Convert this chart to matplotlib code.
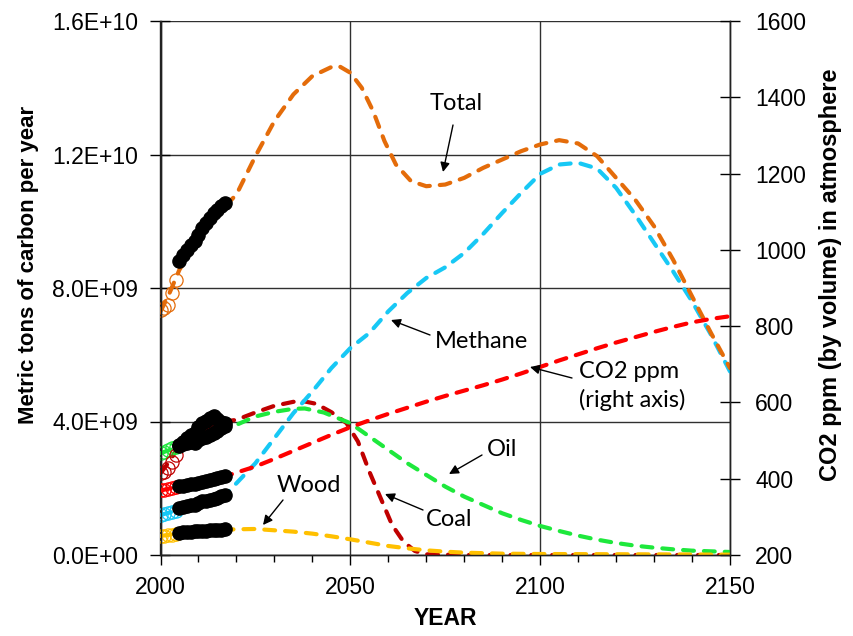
import matplotlib
matplotlib.use("Agg")
import matplotlib.pyplot as plt
from matplotlib.ticker import FixedLocator, MultipleLocator
from matplotlib.patches import FancyArrowPatch

# ---------------- data ----------------
# model curves (billions of metric tons of carbon per year)
total_years = [2000, 2002, 2005, 2008, 2011, 2014, 2017, 2020, 2025, 2030, 2035, 2040, 2045, 2047, 2050,
               2053, 2056, 2059, 2062, 2066, 2070, 2075, 2080, 2085, 2090, 2095, 2100, 2105, 2110,
               2115, 2120, 2125, 2130, 2135, 2140, 2145, 2150]
total_vals = [7.3, 7.75, 8.55, 9.1, 9.6, 10.05, 10.45, 10.8, 11.95, 13.0, 13.8, 14.35, 14.62, 14.65, 14.45,
              14.0, 13.3, 12.4, 11.7, 11.2, 11.05, 11.1, 11.3, 11.6, 11.85, 12.1, 12.3, 12.43, 12.33,
              11.95, 11.3, 10.65, 9.85, 8.85, 7.75, 6.65, 5.6]

gas_years = [2000, 2005, 2010, 2015, 2017, 2020, 2025, 2030, 2035, 2040, 2045, 2050, 2055, 2060, 2065,
             2070, 2075, 2080, 2085, 2090, 2095, 2100, 2105, 2110, 2115, 2120, 2125, 2130, 2135, 2140,
             2145, 2150]
gas_vals = [1.2, 1.35, 1.55, 1.7, 1.8, 2.15, 2.75, 3.5, 4.25, 4.9, 5.6, 6.2, 6.65, 7.3, 7.85,
            8.3, 8.62, 9.05, 9.62, 10.25, 10.85, 11.42, 11.7, 11.75, 11.58, 11.0, 10.2, 9.35, 8.5, 7.6,
            6.6, 5.5]

coal_years = [2000, 2002, 2004, 2008, 2012, 2017, 2020, 2025, 2030, 2035, 2038, 2041, 2045, 2049, 2052,
              2055, 2058, 2061, 2064, 2067, 2070, 2080, 2100, 2150]
coal_vals = [2.45, 2.75, 3.1, 3.5, 3.8, 4.0, 4.05, 4.27, 4.47, 4.59, 4.6, 4.53, 4.28, 3.95, 3.4,
             2.5, 1.7, 0.9, 0.4, 0.12, 0.02, 0.0, 0.0, 0.0]

oil_years = [2000, 2005, 2010, 2017, 2020, 2025, 2030, 2035, 2038, 2043, 2050, 2055, 2060, 2065, 2070,
             2075, 2080, 2085, 2090, 2095, 2100, 2105, 2110, 2115, 2120, 2125, 2130, 2135, 2140, 2145, 2150]
oil_vals = [3.05, 3.25, 3.45, 3.8, 3.9, 4.15, 4.29, 4.38, 4.39, 4.27, 3.95, 3.55, 3.15, 2.75, 2.4,
            2.05, 1.75, 1.5, 1.25, 1.05, 0.87, 0.72, 0.58, 0.46, 0.36, 0.28, 0.22, 0.17, 0.13, 0.11, 0.09]

wood_years = [2000, 2005, 2010, 2017, 2020, 2025, 2030, 2035, 2040, 2045, 2050, 2055, 2060, 2065, 2070,
              2075, 2080, 2090, 2100, 2125, 2150]
wood_vals = [0.57, 0.65, 0.7, 0.76, 0.77, 0.78, 0.74, 0.7, 0.64, 0.56, 0.47, 0.37, 0.27, 0.2, 0.14,
             0.1, 0.07, 0.04, 0.03, 0.02, 0.01]

co2_years = [2000, 2005, 2010, 2017, 2020, 2025, 2030, 2035, 2040, 2045, 2050, 2055, 2060, 2065, 2070,
             2075, 2080, 2085, 2090, 2095, 2100, 2105, 2110, 2115, 2120, 2125, 2130, 2135, 2140, 2145, 2150]
co2_vals = [369, 380, 390, 406, 416, 432, 452, 473, 494, 515, 535, 553, 570, 586, 602,
            617, 631, 645, 660, 676, 693, 710, 726, 742, 757, 771, 785, 798, 810, 819, 826]

# early observations (open circles)
early_years = [2000, 2001, 2002, 2003, 2004]
early_total = [7.35, 7.4, 7.5, 7.85, 8.25]
early_oil = [3.05, 3.1, 3.15, 3.2, 3.25]
early_coal = [2.45, 2.5, 2.6, 2.8, 3.0]
early_gas = [1.2, 1.23, 1.26, 1.3, 1.33]
early_wood = [0.57, 0.58, 0.59, 0.61, 0.63]
early_co2 = [369.5, 371, 373, 375.5, 377.5]

# recent observations (black dots)
obs_years = [2005, 2006, 2007, 2008, 2009, 2010, 2011, 2012, 2013, 2014, 2015, 2016, 2017]
obs_total = [8.8, 9.0, 9.15, 9.3, 9.4, 9.6, 9.8, 9.95, 10.1, 10.25, 10.35, 10.45, 10.55]
obs_coal = [3.30, 3.40, 3.50, 3.60, 3.65, 3.85, 3.95, 4.02, 4.10, 4.15, 4.08, 4.0, 3.95]
obs_oil = [3.28, 3.32, 3.36, 3.38, 3.36, 3.45, 3.5, 3.55, 3.6, 3.65, 3.72, 3.8, 3.88]
obs_gas = [1.40, 1.44, 1.46, 1.50, 1.50, 1.57, 1.61, 1.63, 1.66, 1.69, 1.72, 1.76, 1.80]
obs_wood = [0.67, 0.68, 0.69, 0.70, 0.71, 0.72, 0.73, 0.73, 0.74, 0.75, 0.75, 0.76, 0.77]
obs_co2 = [379.8, 381.9, 383.8, 385.6, 387.4, 389.9, 391.7, 393.9, 396.5, 398.6, 400.8, 404.2, 406.5]

left_ticks = [0, 4e9, 8e9, 1.2e10, 1.6e10]
left_tick_labels = ['0.0E+00', '4.0E+09', '8.0E+09', '1.2E+10', '1.6E+10']
right_ticks = [200, 400, 600, 800, 1000, 1200, 1400, 1600]
x_ticks = [2000, 2050, 2100, 2150]

# ---------------- style ----------------
C_TOTAL = '#E46C0A'
C_GAS = '#17C8F5'
C_COAL = '#C00000'
C_OIL = '#1EE83C'
C_WOOD = '#FFC000'
C_CO2 = '#FF0000'

plt.rcParams['font.family'] = ['Liberation Sans', 'DejaVu Sans']
ANN_FONT = ['Lato', 'DejaVu Sans']

W, H = 854, 636
fig = plt.figure(figsize=(W / 100, H / 100), dpi=100)
ax = fig.add_axes([160.5 / W, 1 - 555 / H, (730 - 160.5) / W, (555 - 21) / H])
ax2 = ax.twinx()

B = 1e9
dash_kw = dict(lw=3.0, dashes=(2.6, 2.4), dash_capstyle='round', solid_capstyle='round')

ax.plot(coal_years, [v * B for v in coal_vals], color=C_COAL, zorder=3, **dash_kw)
ax.plot(oil_years, [v * B for v in oil_vals], color=C_OIL, zorder=3, **dash_kw)
ax.plot(wood_years, [v * B for v in wood_vals], color=C_WOOD, zorder=3, **dash_kw)
ax.plot(gas_years, [v * B for v in gas_vals], color=C_GAS, zorder=3, **dash_kw)
ax.plot(total_years, [v * B for v in total_vals], color=C_TOTAL, zorder=3, **dash_kw)

mk_open = dict(ls='none', marker='o', ms=9.5, mfc='none', mew=0.9, zorder=4)
for vals, c in [(early_total, C_TOTAL), (early_oil, C_OIL), (early_coal, C_COAL),
                (early_gas, C_GAS), (early_wood, C_WOOD)]:
    ax.plot(early_years, [v * B for v in vals], color=c, **mk_open)

mk_black = dict(ls='none', marker='o', ms=9.5, color='black', zorder=5)
for vals in [obs_total, obs_coal, obs_oil, obs_gas, obs_wood]:
    ax.plot(obs_years, [v * B for v in vals], **mk_black)

ax2.plot(co2_years, co2_vals, color=C_CO2, zorder=3, **dash_kw)
ax2.plot(early_years, early_co2, color=C_CO2, **mk_open)
ax2.plot(obs_years, obs_co2, **mk_black)

# axes
ax.set_xlim(2000, 2150)
ax.set_ylim(0, 1.6e10)
ax2.set_ylim(200, 1600)
ax.xaxis.set_major_locator(FixedLocator(x_ticks))
ax.xaxis.set_minor_locator(MultipleLocator(10))
ax.yaxis.set_major_locator(FixedLocator(left_ticks))
ax.set_yticklabels(left_tick_labels)
ax2.yaxis.set_major_locator(FixedLocator(right_ticks))

ax.grid(True, which='major', color='#303030', lw=1.0)
ax.set_axisbelow(True)

for a in (ax, ax2):
    a.spines['top'].set_visible(False)
    for s in a.spines.values():
        s.set_linewidth(1.0)
        s.set_color('#222222')

TICK_FS = 16.5
ax.tick_params(axis='x', which='major', direction='out', length=7, width=1, labelsize=TICK_FS, pad=8)
ax.tick_params(axis='x', which='minor', direction='out', length=5, width=1)
ax.tick_params(axis='y', direction='inout', length=14, width=1, labelsize=TICK_FS, pad=9)
ax2.tick_params(axis='y', direction='inout', length=14, width=1, labelsize=TICK_FS, pad=11)

ax.set_xlabel('YEAR', fontsize=16.5, fontweight='bold', labelpad=6)
ax.set_ylabel('Metric tons of carbon per year', fontsize=16, fontweight='bold')
ax.yaxis.set_label_coords(-0.213, 0.544)
ax2.set_ylabel('CO2 ppm (by volume) in atmosphere', fontsize=17, fontweight='bold')
ax2.yaxis.set_label_coords(1.156, 0.524)

# annotations
ANN_FS = 17

def label(text, pos, ha='center', ls=1.15):
    fig.text(pos[0] / W, 1 - pos[1] / H, text, fontsize=ANN_FS, family=ANN_FONT,
             ha=ha, va='center', linespacing=ls)

def arrow(p0, p1):
    fig.add_artist(FancyArrowPatch((p0[0] / W, 1 - p0[1] / H), (p1[0] / W, 1 - p1[1] / H),
                                   transform=fig.transFigure, arrowstyle='-|>', color='black',
                                   lw=1.0, mutation_scale=14, shrinkA=0, shrinkB=0))

label('Total', (456, 103))
arrow((453, 125), (443, 172))
label('Methane', (482, 342))
arrow((430, 335), (391, 320))
label('CO2 ppm\n(right axis)', (579, 386), ha='left', ls=1.4)
arrow((572, 378), (530, 367))
label('Oil', (502, 449))
arrow((482, 455), (449, 474))
label('Coal', (449, 519))
arrow((423, 510), (385, 494))
label('Wood', (309, 485))
arrow((283, 500), (263, 525))

fig.savefig('out.png', dpi=100)
